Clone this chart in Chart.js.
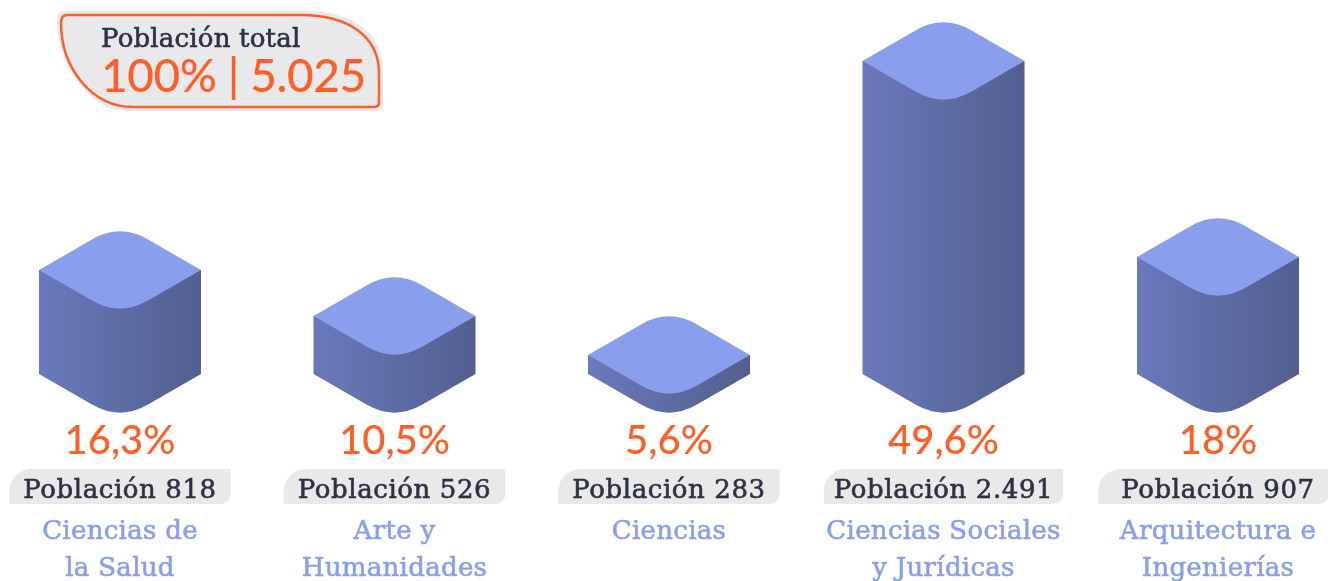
<!DOCTYPE html>
<html>
<head>
<meta charset="utf-8">
<script src="https://cdn.jsdelivr.net/npm/chart.js@4"></script>
<style>
  html, body { margin: 0; padding: 0; background: #fff; overflow: hidden; }
  #wrap { width: 1328px; height: 581px; }
</style>
</head>
<body>
<div id="wrap"><canvas id="chart" width="1328" height="581"></canvas></div>
<script>
const categories = [
  ["Ciencias de", "la Salud"],
  ["Arte y", "Humanidades"],
  ["Ciencias"],
  ["Ciencias Sociales", "y Jurídicas"],
  ["Arquitectura e", "Ingenierías"],
];
const percentLabels = ["16,3%", "10,5%", "5,6%", "49,6%", "18%"];
const populationLabels = ["818", "526", "283", "2.491", "907"];
// column heights (the drawn columns are not strictly
// proportional to the printed percentages)
const columnHeights = [105, 59, 20, 314, 118];
const totalTitle = "Población total";
const totalValue = "100% | 5.025";

const ORANGE = "#ff5f27";
const DARK = "#2e3145";
const TOP = "#8a9eee";
const SLAB = '"DejaVu Serif"';
const SANS = "Lato";

// isometric column drawn on top of each (invisible) bar element
function drawColumn(ctx, bar) {
  const hw = 81;      // half width of the diamond
  const rise = 46.7;  // apex offset of the un-rounded diamond
  const d = 28;       // how far the rounding starts from the apex
  const slope = rise / hw;
  const x = bar.x;
  const h = bar.base - bar.y - 1;
  const cy = bar.y - 38;

  const grad = ctx.createLinearGradient(x - hw, 0, x + hw, 0);
  grad.addColorStop(0, "#6a79bb");
  grad.addColorStop(1, "#525f8f");
  ctx.fillStyle = grad;
  ctx.beginPath();
  ctx.moveTo(x - hw, cy);
  ctx.lineTo(x - hw, cy + h);
  ctx.lineTo(x - d, cy + h + rise - d * slope);
  ctx.quadraticCurveTo(x, cy + h + rise, x + d, cy + h + rise - d * slope);
  ctx.lineTo(x + hw, cy + h);
  ctx.lineTo(x + hw, cy);
  ctx.closePath();
  ctx.fill();

  ctx.fillStyle = TOP;
  ctx.beginPath();
  ctx.moveTo(x - hw, cy);
  ctx.lineTo(x - d, cy - rise + d * slope);
  ctx.quadraticCurveTo(x, cy - rise, x + d, cy - rise + d * slope);
  ctx.lineTo(x + hw, cy);
  ctx.lineTo(x + d, cy + rise - d * slope);
  ctx.quadraticCurveTo(x, cy + rise, x - d, cy + rise - d * slope);
  ctx.closePath();
  ctx.fill();
}

function drawPill(ctx, left, right, top, bottom) {
  ctx.fillStyle = "#e9e9e9";
  ctx.beginPath();
  ctx.roundRect(left, top, right - left, bottom - top, [22, 0, 10, 0]);
  ctx.fill();
}

function totalPath(ctx, l, t, r, b) {
  ctx.beginPath();
  ctx.moveTo(l + 6, t);
  ctx.lineTo(r - 78, t);
  ctx.bezierCurveTo(r - 30, t, r, t + 22, r, t + 58);
  ctx.lineTo(r, b - 5);
  ctx.quadraticCurveTo(r, b, r - 5, b);
  ctx.lineTo(l + 72, b);
  ctx.bezierCurveTo(l + 30, b, l, t + 52, l, t + 8);
  ctx.quadraticCurveTo(l, t, l + 6, t);
  ctx.closePath();
}

// fill plus a thin outline, the slab font is too light on its own
function heavyText(ctx, text, x, y, color) {
  ctx.fillStyle = color;
  ctx.strokeStyle = color;
  ctx.lineWidth = 0.6;
  ctx.fillText(text, x, y);
  ctx.strokeText(text, x, y);
}

const columnPlugin = {
  id: "columns",
  beforeDraw(chart) {
    // picked up by the tick labels too
    chart.ctx.letterSpacing = "0.3px";
  },
  afterDatasetsDraw(chart) {
    const ctx = chart.ctx;
    const bars = chart.getDatasetMeta(0).data;
    ctx.save();
    bars.forEach((bar, i) => {
      drawColumn(ctx, bar);

      ctx.textAlign = "center";
      ctx.textBaseline = "alphabetic";
      ctx.fillStyle = ORANGE;
      ctx.letterSpacing = "0px";
      ctx.font = "500 40px " + SANS;
      ctx.fillText(percentLabels[i], bar.x, 454);

      const text = "Población " + populationLabels[i];
      ctx.letterSpacing = "0.6px";
      ctx.font = "26px " + SLAB;
      const half = ctx.measureText(text).width / 2;
      const padRight = i === 3 ? 10 : 14;
      const padLeft = i === 4 ? 23 : padRight;
      drawPill(ctx, bar.x - half - padLeft, bar.x + half + padRight, 469, 504);
      heavyText(ctx, text, bar.x, 498, DARK);
    });

    // total box in the top left corner
    totalPath(ctx, 57, 11, 383, 111);
    ctx.fillStyle = "#e9e9ec";
    ctx.fill();
    totalPath(ctx, 61, 15, 379, 107);
    ctx.strokeStyle = ORANGE;
    ctx.lineWidth = 2.5;
    ctx.stroke();
    ctx.textAlign = "left";
    ctx.letterSpacing = "0.2px";
    ctx.font = "26px " + SLAB;
    heavyText(ctx, totalTitle, 101, 47, DARK);
    ctx.fillStyle = ORANGE;
    ctx.letterSpacing = "-0.4px";
    ctx.font = "500 46px " + SANS;
    ctx.fillText(totalValue, 101, 92);
    ctx.restore();
  },
};

new Chart(document.getElementById("chart"), {
  type: "bar",
  data: {
    labels: categories,
    datasets: [{ data: columnHeights, backgroundColor: "transparent" }],
  },
  options: {
    responsive: false,
    animation: false,
    layout: { padding: { left: 120, right: 110, top: 99, bottom: 0 } },
    plugins: { legend: { display: false }, tooltip: { enabled: false } },
    scales: {
      x: {
        offset: false,
        grid: { display: false, drawTicks: false },
        border: { display: false },
        afterFit: (scale) => {
          scale.height = 168;
          scale.paddingLeft = 0;
          scale.paddingRight = 0;
        },
        ticks: {
          padding: 100,
          autoSkip: false,
          maxRotation: 0,
          color: TOP,
          textStrokeColor: TOP,
          textStrokeWidth: 0.6,
          font: { family: SLAB, size: 26, lineHeight: 1.45 },
        },
      },
      y: { display: false, min: 0, max: 314 },
    },
  },
  plugins: [columnPlugin],
});
</script>
</body>
</html>
